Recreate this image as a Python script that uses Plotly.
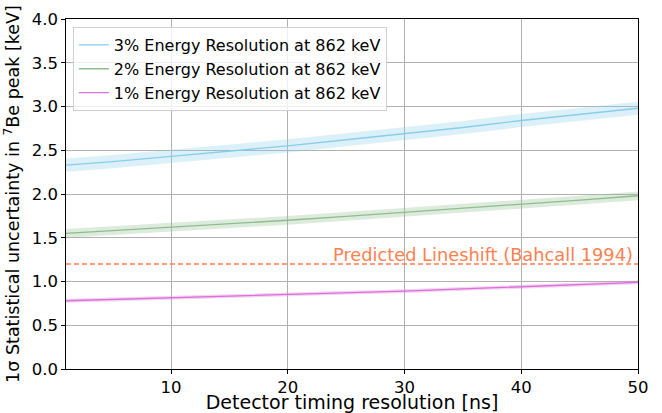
import plotly.graph_objects as go

# timing resolution in ns
timing_ns = [1, 5, 10, 15, 20, 25, 30, 35, 40, 45, 50]

# 1 sigma uncertainty (keV) per energy resolution
unc_3pct = [2.33, 2.37, 2.43, 2.49, 2.55, 2.62, 2.69, 2.76, 2.84, 2.91, 2.98]
unc_2pct = [1.55, 1.58, 1.62, 1.66, 1.70, 1.745, 1.79, 1.835, 1.88, 1.93, 1.98]
unc_1pct = [0.78, 0.795, 0.81, 0.83, 0.85, 0.87, 0.89, 0.915, 0.94, 0.965, 0.99]

# half-width of shaded bands
err_3pct = [0.075] * 11
err_2pct = [0.05] * 11
err_1pct = [0.022] * 11

lineshift = 1.2

series = [
    ("3% Energy Resolution at 862 keV", unc_3pct, err_3pct, "#87CEEB", "rgba(135,206,235,0.3)"),
    ("2% Energy Resolution at 862 keV", unc_2pct, err_2pct, "#8FBC8F", "rgba(143,188,143,0.3)"),
    ("1% Energy Resolution at 862 keV", unc_1pct, err_1pct, "#DA70D6", "rgba(218,112,214,0.3)"),
]

fig = go.Figure()

for name, y, err, col, fill in series:
    upper = [v + e for v, e in zip(y, err)]
    lower = [v - e for v, e in zip(y, err)]
    fig.add_trace(go.Scatter(x=timing_ns, y=upper, mode="lines", line=dict(width=0),
                             showlegend=False, hoverinfo="skip"))
    fig.add_trace(go.Scatter(x=timing_ns, y=lower, mode="lines", line=dict(width=0),
                             fill="tonexty", fillcolor=fill, showlegend=False, hoverinfo="skip"))
    fig.add_trace(go.Scatter(x=timing_ns, y=y, mode="lines", name=name,
                             line=dict(color=col, width=1.3)))

# predicted lineshift
fig.add_trace(go.Scatter(x=[timing_ns[0], timing_ns[-1]], y=[lineshift, lineshift], mode="lines",
                         line=dict(color="#FF7F50", width=1.3, dash="5px,3px"), showlegend=False))
fig.add_annotation(x=50, y=lineshift, text="Predicted Lineshift (Bahcall 1994)",
                   showarrow=False, xanchor="right", yanchor="bottom", yshift=-3, xshift=-3,
                   font=dict(color="#FF7F50", size=17.8))

axis_common = dict(
    showline=True, linecolor="black", linewidth=1.2, mirror=True,
    ticks="outside", ticklen=3.5, tickcolor="black",
    showgrid=True, gridcolor="#b0b0b0", gridwidth=1, zeroline=False,
    tickfont=dict(size=16.5, color="black"), automargin=False,
)

fig.update_layout(
    width=662, height=413,
    margin=dict(l=66, r=24, t=19, b=44),
    paper_bgcolor="white", plot_bgcolor="white",
    font=dict(family="DejaVu Sans", color="black"),
    legend=dict(x=0.012, y=0.977, xanchor="left", yanchor="top", traceorder="normal",
                bgcolor="rgba(255,255,255,0.8)", bordercolor="#d0d0d0", borderwidth=1,
                font=dict(size=16), tracegroupgap=0),
    xaxis=dict(range=[1, 50], tickvals=[10, 20, 30, 40, 50],
               title=dict(text="Detector timing resolution [ns]", font=dict(size=19), standoff=0),
               **axis_common),
    yaxis=dict(range=[0, 4], dtick=0.5, tickformat=".1f",
               title=dict(text="1σ Statistical uncertainty in <sup>7</sup>Be peak [keV]",
                          font=dict(size=17.5), standoff=7),
               **axis_common),
)

# drop the browser's default body margin so the figure sits at the page corner
fig.write_html("out.html", config={"displayModeBar": False},
               post_script="document.body.style.margin='0';")
